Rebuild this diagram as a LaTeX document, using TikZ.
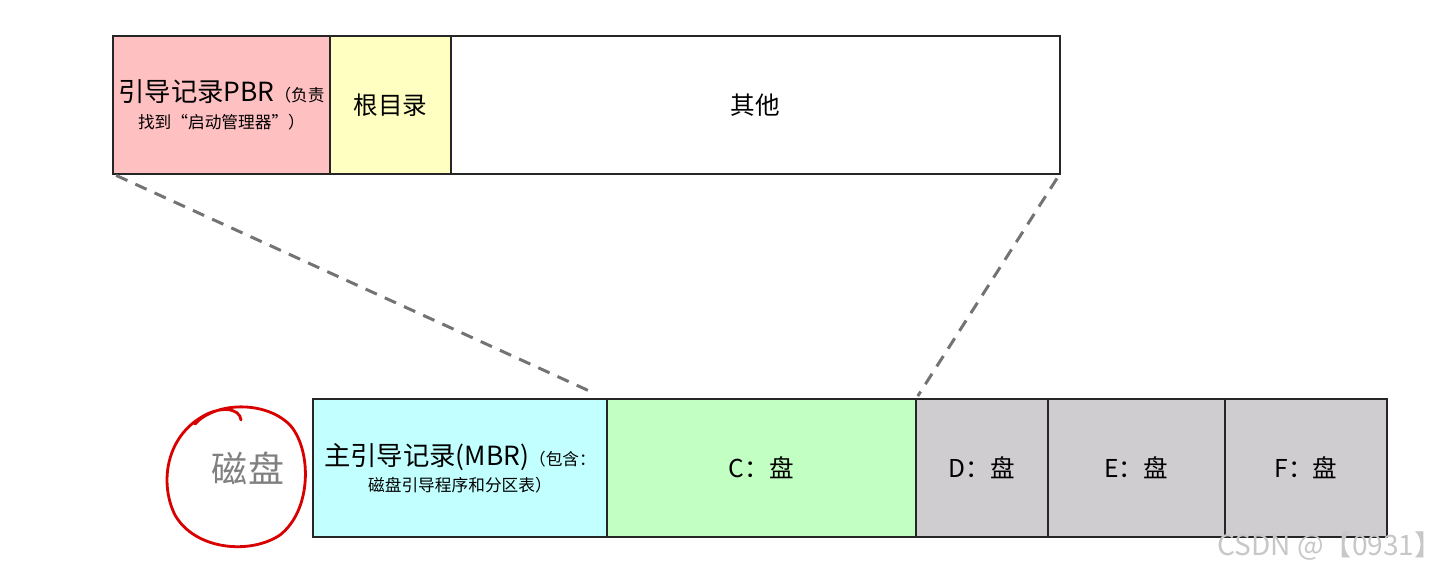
\documentclass[tikz,border=0pt]{standalone}
\usepackage{fontspec}
\setmainfont{Noto Sans CJK SC}
\usetikzlibrary{positioning}
\definecolor{pbrpink}{HTML}{FFC0C2}
\definecolor{rootyellow}{HTML}{FFFFC2}
\definecolor{mbrcyan}{HTML}{C2FFFF}
\definecolor{cgreen}{HTML}{C2FFC2}
\definecolor{restgray}{HTML}{CFCDD0}
\newcommand{\bigtxt}{\fontsize{15}{19}\selectfont}
\newcommand{\midtxt}{\fontsize{14}{18}\selectfont}
\newcommand{\smalltxt}{\fontsize{9.5}{14}\selectfont}
\begin{document}
\begin{tikzpicture}[x=0.02cm, y=-0.02cm,
    part/.style={draw=black!85, line width=1.1pt, inner sep=0pt, outer sep=0pt,
        minimum height=2.76cm, align=center, font=\midtxt},
    zoomline/.style={draw=black!55, line width=1.7pt, dash pattern=on 7pt off 5pt}]
    \useasboundingbox (0,0) rectangle (1455,572);
    % partition boot sector
    \node[part, fill=pbrpink, minimum width=4.34cm, anchor=north west] (pbr) at (113,36)
        {{\bigtxt 引导记录PBR}{\smalltxt （负责}\\[-3pt]{\smalltxt 找到“启动管理器”）}};
    \node[part, fill=rootyellow, minimum width=2.42cm, right=0pt of pbr] (root) {根目录};
    \node[part, fill=white, minimum width=12.18cm, right=0pt of root] (other) {其他};
    % disk
    \node[part, fill=mbrcyan, minimum width=5.88cm, anchor=north west] (mbr) at (313,399)
        {{\bigtxt 主引导记录(MBR)}{\smalltxt （包含：}\\[-3pt]{\smalltxt 磁盘引导程序和分区表）}};
    \node[part, fill=cgreen, minimum width=6.18cm, right=0pt of mbr] (C) {C：盘};
    \node[part, fill=restgray, minimum width=2.64cm, right=0pt of C] (D) {D：盘};
    \node[part, fill=restgray, minimum width=3.54cm, right=0pt of D] (E) {E：盘};
    \node[part, fill=restgray, minimum width=3.24cm, right=0pt of E] (F) {F：盘};
    % zoom lines
    \draw[zoomline, shorten <=2pt, shorten >=8pt] (pbr.south west) -- (C.north west);
    \draw[zoomline, shorten <=3pt, shorten >=2pt] (other.south east) -- (C.north east);
    % hand drawn circle
    \node[text=black!50, font=\fontsize{20.5}{24}\selectfont] (disk) at (248,468) {磁盘};
    \draw[red!85!black, line width=1.6pt, line cap=round]
        (195,424) .. controls (215,402) and (265,400) .. (290,425)
        .. controls (312,450) and (312,510) .. (280,535)
        .. controls (250,555) and (195,550) .. (175,515)
        .. controls (160,485) and (165,440) .. (200,418)
        .. controls (220,405) and (240,408) .. (241,420);
    \node[text=black!22, font=\fontsize{16}{18}\selectfont] (mark) at (1330,546) {CSDN @【0931】};
\end{tikzpicture}
\end{document}
